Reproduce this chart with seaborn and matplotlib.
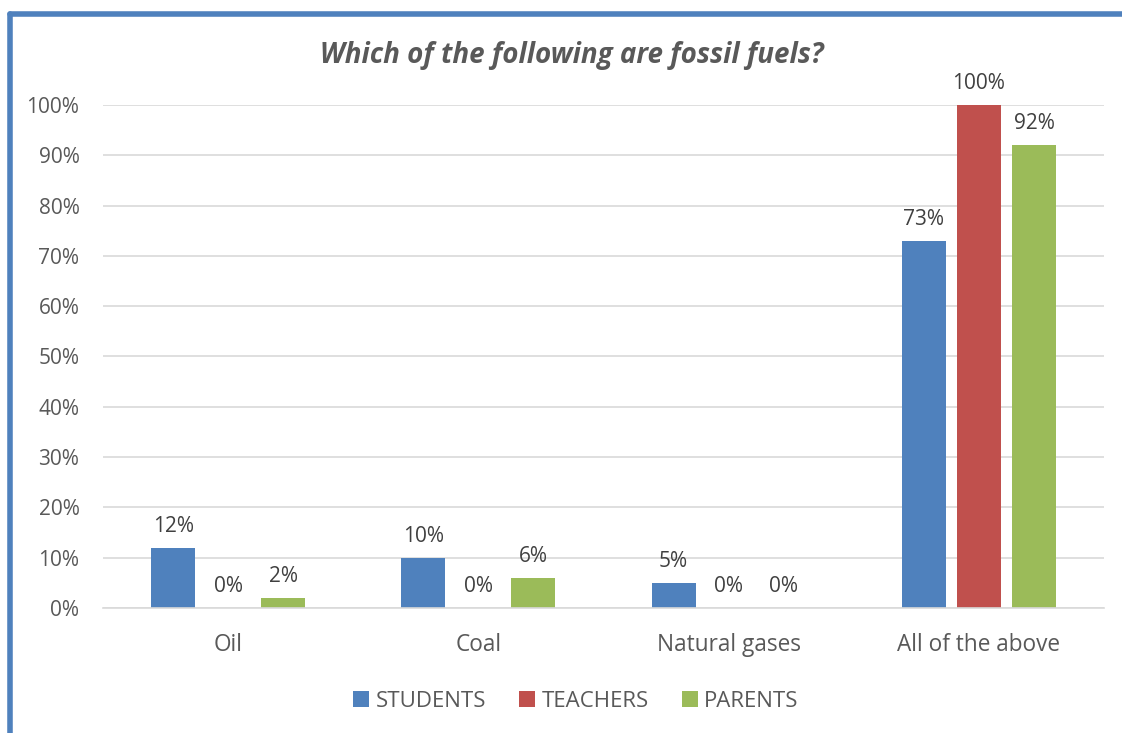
import numpy as np
import pandas as pd
import matplotlib
matplotlib.use('Agg')
import matplotlib.pyplot as plt
import seaborn as sns
from matplotlib.lines import Line2D
from matplotlib.ticker import PercentFormatter

categories = ['Oil', 'Coal', 'Natural gases', 'All of the above']
groups     = ['STUDENTS', 'TEACHERS', 'PARENTS']
students   = [12, 10, 5, 73]
teachers   = [0, 0, 0, 100]
parents    = [2, 6, 0, 92]

BLUE  = '#4F81BD'
RED   = '#C0504D'
GREEN = '#9BBB59'
TEXT  = '#595959'
GRID  = '#D9D9D9'

df = pd.DataFrame({
    'category': categories * 3,
    'group':    [g for g in groups for _ in categories],
    'value':    students + teachers + parents,
})

sns.set_theme(style='white')
plt.rcParams['font.family'] = ['Open Sans', 'DejaVu Sans']

fig = plt.figure(figsize=(11.22, 7.33), dpi=100, facecolor='white')
ax = fig.add_axes([0.0918, 0.1705, 0.8922, 0.6863])

sns.barplot(data=df, x='category', y='value', hue='group',
            order=categories, hue_order=groups,
            palette=[BLUE, RED, GREEN], width=0.66, gap=0.2,
            saturation=1, linewidth=0, ax=ax, legend=True)

ax.set_ylim(0, 100)
ax.set_xlim(-0.5, len(categories) - 0.5)
ax.set_yticks(np.arange(0, 101, 10))
ax.yaxis.set_major_formatter(PercentFormatter(decimals=0))
ax.grid(axis='y', color=GRID, linewidth=1.2)
ax.set_axisbelow(True)
for side in ['top', 'right', 'left']:
    ax.spines[side].set_visible(False)
ax.spines['bottom'].set_color(GRID)
ax.spines['bottom'].set_linewidth(1.2)
ax.tick_params(axis='y', length=0, pad=17, labelsize=15, labelcolor=TEXT)
ax.tick_params(axis='x', length=0, pad=18, labelsize=16.3, labelcolor=TEXT)
ax.set_xlabel('')
ax.set_ylabel('')

for cont in ax.containers:
    ax.bar_label(cont, labels=[f'{v:.0f}%' for v in cont.datavalues],
                 padding=8, fontsize=15, color='#404040')

ax.set_title('Which of the following are fossil fuels?', fontsize=20,
             fontweight='bold', fontstyle='italic', color=TEXT, pad=30,
             x=0.4685)

handles, labels = ax.get_legend_handles_labels()
ax.legend(handles, labels, loc='upper center', bbox_to_anchor=(0.4725, -0.125),
          ncol=3, frameon=False, fontsize=16, labelcolor=TEXT,
          handlelength=0.7, handleheight=0.7, handletextpad=0.3,
          columnspacing=1.5)

# chart frame drawn along top and left edges
fig.add_artist(Line2D([0.0085, 1.0], [0.9815, 0.9815], color=BLUE,
                      linewidth=4, transform=fig.transFigure))
fig.add_artist(Line2D([0.0085, 0.0085], [0.0, 0.9815], color=BLUE,
                      linewidth=4, transform=fig.transFigure))

fig.savefig('out.png', dpi=100, facecolor='white')
